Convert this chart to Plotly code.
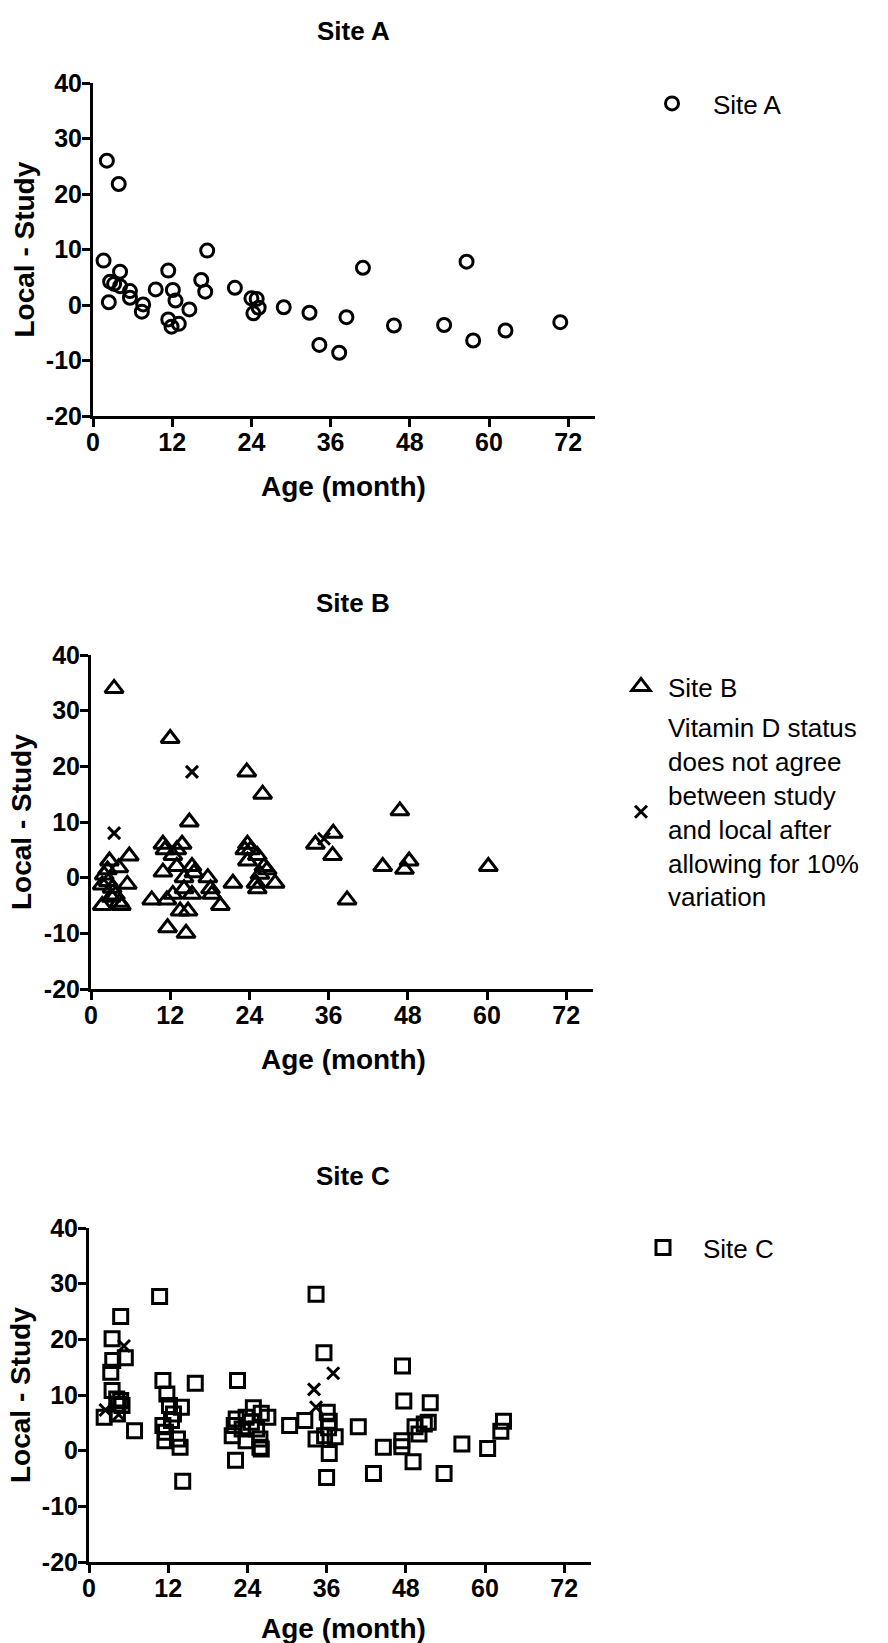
import plotly.graph_objects as go

# ---- Site A: age (months) and Local - Study difference ----
site_a_age = [2.1, 3.9, 1.6, 2.6, 3.2, 2.4, 4.1, 4.1, 5.6, 5.6, 7.6, 7.4, 9.5, 11.4,
              12.1, 12.5, 11.4, 11.9, 13.0, 14.6, 16.4, 17.0, 17.3, 21.5, 24.0, 24.8,
              24.3, 25.1, 28.9, 32.8, 34.3, 37.3, 38.4, 40.9, 45.6, 53.2, 56.6, 57.6,
              62.5, 70.8]
site_a_diff = [26.0, 21.8, 8.0, 4.2, 3.8, 0.5, 6.0, 3.4, 2.5, 1.3, 0.1, -1.2, 2.8, 6.2,
               2.7, 0.8, -2.6, -3.9, -3.4, -0.8, 4.5, 2.4, 9.8, 3.1, 1.2, 1.1,
               -1.5, -0.5, -0.4, -1.4, -7.2, -8.6, -2.2, 6.7, -3.7, -3.6, 7.8, -6.4,
               -4.6, -3.1]

# ---- Site B ----
site_b_age = [3.5, 2.8, 2.5, 2.0, 4.2, 5.8, 5.5, 1.7, 3.2, 3.7, 3.05, 1.7, 4.3, 4.6, 2.6,
              10.9, 11.2, 12.0, 13.0, 13.8, 12.4, 10.9, 13.0, 14.9, 15.3, 15.6, 14.1,
              9.2, 11.5, 12.4, 14.1, 15.3, 13.5, 14.7, 11.6, 14.4, 17.7, 18.1, 18.3,
              19.6, 21.5, 23.6, 26.0, 23.7, 23.3, 24.2, 25.2, 23.7, 26.2, 26.7, 25.6,
              25.0, 25.2, 27.9, 34.0, 36.7, 36.6, 38.8, 44.2, 46.8, 47.5, 48.2, 60.2]
site_b_diff = [34.0, 3.0, 1.4, 0.5, 1.8, 3.9, -1.2, -1.3, -1.9, -3.1, -3.5, -5.0, -4.4, -5.0, -0.7,
               6.0, 5.0, 25.0, 5.0, 6.0, 4.0, 1.0, 2.0, 10.0, 2.0, 0.9, 0.0,
               -4.0, -4.0, -3.0, -2.0, -3.0, -6.0, -6.0, -9.0, -10.0, 0.0, -2.0, -3.0,
               -5.0, -1.0, 19.0, 15.0, 6.0, 5.0, 5.0, 4.0, 3.0, 2.0, 1.4, 0.6,
               -1.0, -2.0, -1.0, 6.0, 8.0, 4.0, -4.0, 2.0, 12.0, 1.5, 3.0, 2.0]
site_b_flag_age = [3.5, 15.3, 35.3]
site_b_flag_diff = [8.0, 19.0, 7.0]

# ---- Site C ----
site_c_age = [10.7, 34.4, 4.8, 3.5, 3.6, 5.5, 3.3, 3.5, 4.2, 4.8, 4.4, 5.0, 2.3, 4.3, 6.9,
              11.2, 11.8, 12.2, 14.0, 12.8, 12.5, 11.2, 11.6, 11.5, 13.4, 13.8, 14.2, 16.1,
              22.5, 22.3, 22.0, 21.7, 22.2, 23.8, 24.9, 26.1, 27.1, 24.6, 23.2, 25.4,
              23.8, 25.9, 26.1, 25.9, 30.4, 32.7, 35.6, 36.1, 36.4, 36.3, 34.4, 35.7,
              37.3, 36.4, 36.0, 40.8, 43.1, 44.6, 47.5, 47.7, 47.4, 47.4, 49.1, 50.0,
              49.4, 50.8, 51.4, 51.7, 53.8, 56.5, 60.4, 62.4, 62.8]
site_c_diff = [27.7, 28.1, 24.1, 20.1, 16.2, 16.7, 14.1, 10.8, 9.3, 9.0, 8.4, 8.1, 6.0, 6.6, 3.6,
               12.6, 10.2, 8.1, 7.8, 6.6, 5.4, 4.5, 3.3, 1.8, 2.1, 0.6, -5.5, 12.1,
               12.6, 5.7, 4.5, 2.7, -1.7, 6.0, 7.7, 6.7, 6.0, 5.1, 3.9, 3.9,
               1.8, 2.1, 0.3, 0.6, 4.5, 5.4, 17.6, 6.9, 5.3, 4.1, 2.1, 2.7,
               2.5, -0.5, -4.8, 4.3, -4.1, 0.6, 15.2, 8.9, 1.8, 0.7, -2.0, 3.0,
               4.3, 4.8, 5.1, 8.6, -4.1, 1.2, 0.4, 3.5, 5.3]
site_c_flag_age = [2.5, 4.5, 5.3, 34.1, 37.0, 34.4]
site_c_flag_diff = [7.3, 6.5, 18.8, 11.0, 13.9, 7.8]

# ---- axis ticks ----
x_ticks = [0, 12, 24, 36, 48, 60, 72]
y_ticks = [-20, -10, 0, 10, 20, 30, 40]
y_tick_text = ["-20", "-10", "0", "10", "20", "30", "40"]

flag_label = ("Vitamin D status<br>does not agree<br>between study<br>"
              "and local after<br>allowing for 10%<br>variation")

W, H = 888, 1643
FONT = "Liberation Sans, Arial, sans-serif"
X_MAX = 76
PX_PER_MONTH = 6.6

# pixel layout of each panel: (left, top, bottom)
panels = {
    "A": (93, 83, 416),
    "B": (91, 655, 989),
    "C": (89, 1228, 1562),
}


def px_x(v):
    return v / W


def px_y(v):
    return 1 - v / H


fig = go.Figure()

BLACK = "black"


def scatter(x, y, symbol, size, name, axes, legend, group, showlegend=True, lw=3):
    xa, ya = axes
    fig.add_trace(go.Scatter(
        x=x, y=y, mode="markers", name=name,
        xaxis=xa, yaxis=ya, legend=legend, showlegend=showlegend, legendgroup=group,
        marker=dict(symbol=symbol, size=size, color=BLACK,
                    line=dict(color=BLACK, width=lw)),
        cliponaxis=False,
    ))


scatter(site_a_age, site_a_diff, "circle-open", 13, "Site A", ("x", "y"), "legend", "a")
scatter(site_b_age, site_b_diff, "triangle-up-open", 16, "Site B", ("x2", "y2"),
        "legend2", "b")
scatter(site_b_flag_age, site_b_flag_diff, "x-thin-open", 12, flag_label, ("x2", "y2"),
        "legend2", "bflag")
scatter(site_c_age, site_c_diff, "square-open", 14, "Site C", ("x3", "y3"), "legend3", "c")
scatter(site_c_flag_age, site_c_flag_diff, "x-thin-open", 12, "flag C", ("x3", "y3"),
        "legend3", "cflag", showlegend=False)

tickfont = dict(family=FONT, size=25, color=BLACK, weight="bold")

layout = dict(
    width=W, height=H,
    margin=dict(l=0, r=0, t=0, b=0),
    paper_bgcolor="white", plot_bgcolor="white",
    showlegend=True,
    font=dict(family=FONT, color=BLACK),
)

annotations = []
for i, (key, (l, t, b)) in enumerate(panels.items()):
    r = l + X_MAX * PX_PER_MONTH
    suffix = "" if i == 0 else str(i + 1)
    layout["xaxis" + suffix] = dict(
        domain=[px_x(l), px_x(r)], range=[0, X_MAX], anchor="y" + suffix,
        tickvals=x_ticks, ticks="outside", ticklen=8, tickwidth=3, tickcolor=BLACK,
        showline=True, linewidth=3, linecolor=BLACK, showgrid=False, zeroline=False,
        tickfont=tickfont, automargin=False, fixedrange=True, ticklabelstandoff=-6,
    )
    layout["yaxis" + suffix] = dict(
        domain=[px_y(b), px_y(t)], range=[-20, 40], anchor="x" + suffix,
        tickvals=y_ticks, ticktext=y_tick_text, ticks="outside", ticklen=8, tickwidth=3,
        tickcolor=BLACK, showline=True, linewidth=3, linecolor=BLACK, showgrid=False,
        zeroline=False, tickfont=tickfont, automargin=False, fixedrange=True,
        ticklabelstandoff=-5,
    )
    # panel title
    annotations.append(dict(
        text="<b>Site %s</b>" % key, x=px_x(353), y=px_y(t - 52), xref="paper", yref="paper",
        showarrow=False, font=dict(family=FONT, size=26, color=BLACK),
        xanchor="center", yanchor="middle"))
    # x axis title
    title_y = b + 70 if key != "C" else b + 66
    annotations.append(dict(
        text="<b>Age (month)</b>", x=px_x(343), y=px_y(title_y), xref="paper",
        yref="paper", showarrow=False, font=dict(family=FONT, size=28, color=BLACK),
        xanchor="center", yanchor="middle"))
    # y axis title
    annotations.append(dict(
        text="<b>Local - Study</b>", x=px_x(l - 69), y=px_y((t + b) / 2), xref="paper",
        yref="paper", showarrow=False, textangle=-90,
        font=dict(family=FONT, size=28, color=BLACK),
        xanchor="center", yanchor="middle"))

legend_font = dict(family=FONT, size=26, color=BLACK)
layout["legend"] = dict(x=px_x(631), y=px_y(80), xanchor="left", yanchor="top",
                        font=legend_font, itemwidth=72, bgcolor="rgba(0,0,0,0)")
layout["legend2"] = dict(x=px_x(614), y=px_y(663), xanchor="left", yanchor="top",
                         font=legend_font, itemwidth=44, bgcolor="rgba(0,0,0,0)",
                         valign="middle", traceorder="grouped", tracegroupgap=4)
layout["legend3"] = dict(x=px_x(623), y=px_y(1224), xanchor="left", yanchor="top",
                         font=legend_font, itemwidth=70, bgcolor="rgba(0,0,0,0)")
layout["annotations"] = annotations

fig.update_layout(**layout)
fig.write_html("out.html")
